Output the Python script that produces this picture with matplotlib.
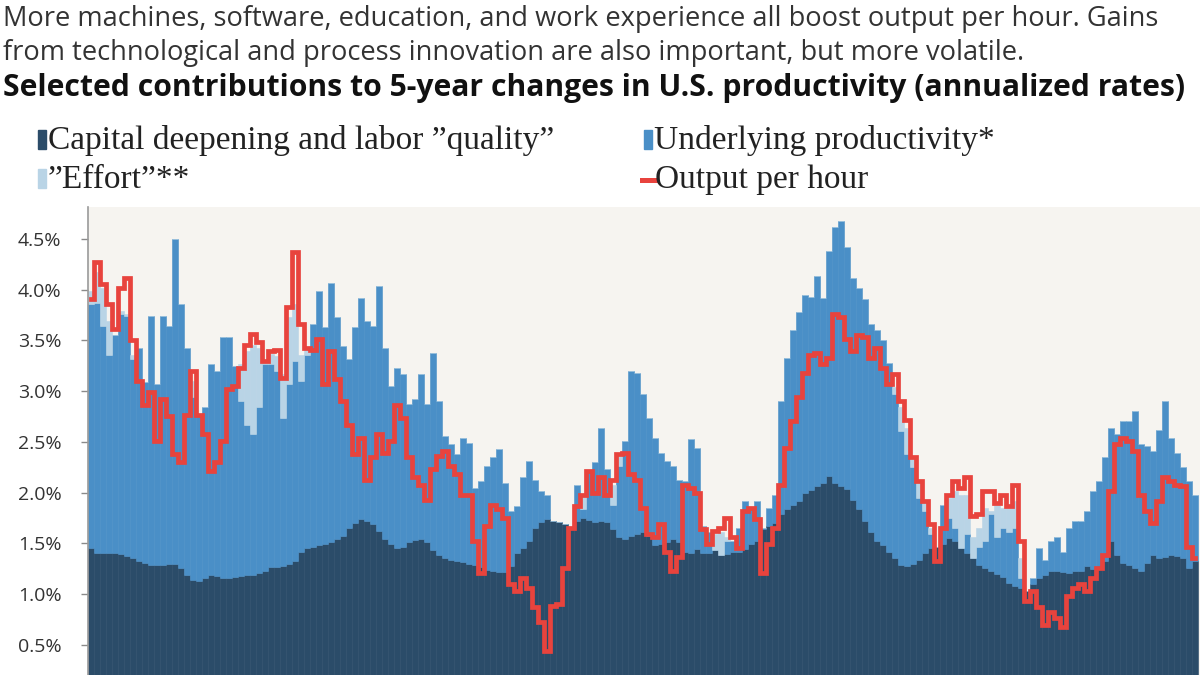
import numpy as np
import matplotlib.pyplot as plt
from matplotlib.patches import Rectangle
from matplotlib.lines import Line2D

# contributions to 5-year changes in U.S. productivity, annualized %
capital = [
    1.46, 1.41, 1.41, 1.41, 1.41, 1.40, 1.38, 1.36, 1.33, 1.31,
    1.29, 1.29, 1.29, 1.30, 1.30, 1.26, 1.19, 1.14, 1.13, 1.16,
    1.19, 1.18, 1.16, 1.16, 1.17, 1.18, 1.19, 1.19, 1.21, 1.23,
    1.27, 1.27, 1.28, 1.30, 1.33, 1.42, 1.46, 1.47, 1.48, 1.49,
    1.51, 1.54, 1.57, 1.65, 1.70, 1.74, 1.72, 1.69, 1.62, 1.54,
    1.49, 1.46, 1.47, 1.51, 1.53, 1.54, 1.51, 1.44, 1.39, 1.36,
    1.34, 1.33, 1.32, 1.30, 1.29, 1.27, 1.24, 1.23, 1.22, 1.22,
    1.28, 1.41, 1.46, 1.52, 1.65, 1.71, 1.74, 1.72, 1.71, 1.69,
    1.65, 1.72, 1.75, 1.73, 1.71, 1.72, 1.71, 1.64, 1.56, 1.54,
    1.57, 1.59, 1.61, 1.57, 1.48, 1.49, 1.51, 1.54, 1.51, 1.42,
    1.41, 1.45, 1.41, 1.41, 1.44, 1.39, 1.40, 1.42, 1.42, 1.45,
    1.49, 1.52, 1.64, 1.67, 1.70, 1.79, 1.84, 1.88, 1.92, 2.00,
    2.03, 2.07, 2.10, 2.16, 2.10, 2.07, 2.04, 1.93, 1.84, 1.72,
    1.61, 1.52, 1.48, 1.42, 1.36, 1.29, 1.28, 1.30, 1.34, 1.41,
    1.46, 1.47, 1.49, 1.55, 1.52, 1.46, 1.41, 1.36, 1.29, 1.26,
    1.23, 1.20, 1.17, 1.11, 1.08, 1.06, 1.03, 1.10, 1.16, 1.19,
    1.23, 1.23, 1.22, 1.21, 1.23, 1.23, 1.28, 1.25, 1.27, 1.33,
    1.52, 1.39, 1.31, 1.29, 1.26, 1.23, 1.31, 1.39, 1.36, 1.37,
    1.39, 1.38, 1.36, 1.26, 1.33,
]
underlying = [
    2.40, 2.46, 2.23, 1.95, 2.14, 2.36, 2.36, 1.96, 2.10, 1.78,
    2.45, 1.78, 2.45, 2.34, 3.20, 2.60, 2.24, 1.80, 1.64, 1.68,
    2.08, 2.02, 2.37, 2.37, 2.08, 1.72, 1.48, 1.39, 1.63, 2.04,
    2.00, 1.93, 1.46, 1.77, 1.97, 1.68, 1.90, 2.19, 2.51, 2.14,
    2.56, 2.19, 1.88, 1.67, 1.93, 2.18, 1.97, 1.95, 2.42, 1.89,
    1.56, 1.77, 1.70, 1.36, 1.39, 1.63, 1.36, 1.94, 1.51, 1.20,
    1.14, 1.05, 1.22, 1.19, 0.76, 0.85, 1.02, 1.12, 1.21, 0.88,
    0.54, 0.46, 0.69, 0.79, 0.48, 0.31, 0.24, 0.00, 0.00, 0.00,
    0.00, 0.36, 0.09, 0.48, 0.59, 0.92, 0.52, 0.24, 0.70, 0.97,
    1.63, 1.59, 1.36, 1.17, 1.06, 0.90, 0.80, 0.72, 0.62, 0.70,
    1.12, 0.99, 0.26, 0.20, 0.00, 0.00, 0.12, 0.10, 0.23, 0.47,
    0.35, 0.40, 0.01, 0.18, 0.28, 1.11, 1.49, 1.72, 1.86, 1.95,
    1.90, 2.07, 1.82, 2.22, 2.52, 2.61, 2.38, 2.19, 2.18, 2.19,
    2.05, 2.08, 2.02, 1.86, 1.61, 1.32, 1.10, 0.95, 0.61, 0.41,
    0.13, 0.00, 0.39, 0.20, 0.13, 0.00, 0.18, 0.00, 0.18, 0.26,
    0.56, 0.36, 0.48, 0.50, 0.57, 0.10, 0.00, 0.06, 0.30, 0.15,
    0.29, 0.33, 0.20, 0.44, 0.49, 0.49, 0.54, 0.77, 0.85, 1.02,
    1.12, 1.19, 1.40, 1.42, 1.55, 1.25, 1.15, 1.02, 1.26, 1.53,
    1.15, 1.01, 0.89, 0.86, 0.65,
]
effort = [
    0.13, 0.30, 0.38, 0.33, 0.00, 0.03, 0.02, 0.04, 0.00, 0.00,
    0.00, 0.00, 0.00, 0.00, 0.00, 0.00, 0.00, 0.16, 0.00, 0.00,
    0.00, 0.00, 0.00, 0.00, 0.00, 0.37, 0.73, 0.88, 0.59, 0.03,
    0.10, 0.15, 0.43, 0.66, 0.56, 0.26, 0.07, 0.00, 0.00, 0.00,
    0.00, 0.00, 0.00, 0.00, 0.00, 0.00, 0.00, 0.00, 0.00, 0.00,
    0.00, 0.00, 0.00, 0.00, 0.00, 0.00, 0.00, 0.00, 0.00, 0.00,
    0.00, 0.00, 0.00, 0.00, 0.00, 0.00, 0.00, 0.00, 0.00, 0.00,
    0.00, 0.00, 0.00, 0.00, 0.00, 0.00, 0.00, 0.00, 0.00, 0.00,
    0.00, 0.00, 0.14, 0.00, 0.00, 0.00, 0.00, 0.20, 0.10, 0.00,
    0.00, 0.00, 0.00, 0.00, 0.00, 0.00, 0.00, 0.00, 0.00, 0.00,
    0.00, 0.00, 0.00, 0.00, 0.15, 0.22, 0.04, 0.00, 0.00, 0.00,
    0.00, 0.00, 0.00, 0.00, 0.00, 0.00, 0.00, 0.00, 0.00, 0.00,
    0.00, 0.00, 0.00, 0.00, 0.00, 0.00, 0.00, 0.00, 0.00, 0.00,
    0.00, 0.00, 0.00, 0.00, 0.07, 0.23, 0.26, 0.10, 0.17, 0.10,
    0.06, 0.00, 0.00, 0.20, 0.37, 0.52, 0.39, 0.20, 0.18, 0.33,
    0.03, 0.32, 0.20, 0.24, 0.27, 0.20, 0.00, 0.00, 0.00, 0.00,
    0.00, 0.00, 0.00, 0.00, 0.00, 0.00, 0.00, 0.00, 0.00, 0.00,
    0.00, 0.00, 0.00, 0.00, 0.00, 0.00, 0.00, 0.00, 0.00, 0.00,
    0.00, 0.00, 0.00, 0.00, 0.00,
]
output_per_hour = [
    3.91, 4.27, 4.06, 3.86, 3.61, 4.02, 4.12, 3.50, 3.10, 2.86,
    2.99, 2.51, 2.92, 2.76, 2.38, 2.30, 2.77, 3.20, 2.77, 2.58,
    2.21, 2.30, 2.51, 3.02, 3.05, 3.23, 3.46, 3.56, 3.48, 3.30,
    3.40, 3.41, 3.13, 3.83, 4.37, 3.66, 3.43, 3.41, 3.51, 3.07,
    3.40, 3.12, 2.90, 2.67, 2.38, 2.54, 2.13, 2.35, 2.58, 2.39,
    2.51, 2.86, 2.74, 2.35, 2.15, 2.08, 1.93, 2.23, 2.36, 2.41,
    2.26, 2.18, 1.98, 1.98, 1.52, 1.21, 1.67, 1.88, 1.84, 1.75,
    1.10, 1.03, 1.16, 1.06, 0.87, 0.73, 0.44, 0.88, 0.90, 1.26,
    1.65, 1.87, 1.98, 2.21, 2.00, 2.15, 1.98, 2.13, 2.38, 2.39,
    2.18, 2.13, 1.85, 1.59, 1.56, 1.69, 1.42, 1.23, 1.37, 2.08,
    2.05, 2.00, 1.64, 1.49, 1.62, 1.65, 1.75, 1.56, 1.46, 1.82,
    1.85, 1.74, 1.21, 1.49, 1.65, 2.08, 2.44, 2.71, 2.94, 3.18,
    3.36, 3.38, 3.27, 3.33, 3.76, 3.73, 3.51, 3.40, 3.55, 3.53,
    3.33, 3.43, 3.23, 3.07, 3.17, 2.90, 2.72, 2.35, 2.12, 1.92,
    1.69, 1.33, 1.65, 1.98, 2.12, 2.05, 2.15, 1.77, 1.79, 2.02,
    2.02, 1.90, 1.98, 1.87, 2.08, 1.52, 0.93, 1.03, 0.87, 0.70,
    0.82, 0.77, 0.68, 0.98, 1.06, 1.10, 1.03, 1.16, 1.26, 1.39,
    2.02, 2.48, 2.54, 2.51, 2.41, 1.98, 1.82, 1.70, 1.92, 2.15,
    2.12, 2.08, 2.07, 1.47, 1.36,
]
y_ticks = [0.5, 1.0, 1.5, 2.0, 2.5, 3.0, 3.5, 4.0, 4.5]

NAVY = '#2b4c69'
MID = '#4a8fc7'
LIGHT = '#b9d4e6'
RED = '#e8433d'
BG = '#f6f4f0'
INK = '#222222'

sans = ['Open Sans', 'DejaVu Sans']
serif = ['Liberation Serif', 'DejaVu Serif']

fig = plt.figure(figsize=(12, 6.75), dpi=100)
W, H = 1200, 675


def fx(px):
    return px / W


def fy(py):
    return 1 - py / H


ax = fig.add_axes([fx(88), 0, fx(1112), 468 / H])
ax.set_facecolor(BG)

cap = np.array(capital)
und = np.array(underlying)
eff = np.array(effort)
x = np.arange(len(cap))

ax.bar(x, cap, width=1.0, color=NAVY, edgecolor=NAVY, linewidth=0.4)
ax.bar(x, und, bottom=cap, width=1.0, color=MID, edgecolor=MID, linewidth=0.4)
ax.bar(x, eff, bottom=cap + und, width=1.0, color=LIGHT, edgecolor=LIGHT,
       linewidth=0.4)
ax.plot(x, output_per_hour, drawstyle='steps-mid', color=RED, lw=3.4,
        solid_joinstyle='miter')

ax.set_xlim(-0.5, -0.5 + 1112 / 6)
ax.set_ylim(0.204, 4.815)
ax.set_xticks([])
ax.set_yticks(y_ticks)
ax.set_yticklabels(['%.1f%%' % t for t in y_ticks], fontfamily=sans,
                   fontsize=14, color='#333333')
ax.tick_params(axis='y', length=5, width=1, color='#8a8a8a', pad=14)
for s in ['top', 'right', 'bottom']:
    ax.spines[s].set_visible(False)
ax.spines['left'].set_color('#9a9a9a')
ax.spines['left'].set_linewidth(1.2)

# heading
fig.text(fx(3), fy(26), 'More machines, software, education, and work experience '
         'all boost output per hour. Gains', family=sans, fontsize=19.6,
         color='#333333', va='baseline')
fig.text(fx(3), fy(60), 'from technological and process innovation are also '
         'important, but more volatile.', family=sans, fontsize=19.6,
         color='#333333', va='baseline')
fig.text(fx(3), fy(96), 'Selected contributions to 5-year changes in U.S. '
         'productivity (annualized rates)', family=sans, fontsize=21.7,
         fontweight='bold', color='#111111', va='baseline')

# legend
items = [
    (38, 149, NAVY, 'Capital deepening and labor \u201dquality\u201d'),
    (644, 149, MID, 'Underlying productivity*'),
    (38, 188, LIGHT, '\u201dEffort\u201d**'),
]
for px, py, c, label in items:
    fig.add_artist(Rectangle((fx(px), fy(py)), fx(8), 19 / H, color=c,
                             transform=fig.transFigure))
    fig.text(fx(px + 10), fy(py), label, family=serif, fontsize=24,
             color=INK, va='baseline')
fig.add_artist(Line2D([fx(642), fx(655)], [fy(179.5), fy(179.5)], color=RED,
                      lw=3.6, transform=fig.transFigure))
fig.text(fx(655), fy(188), 'Output per hour', family=serif, fontsize=24,
         color=INK, va='baseline')

fig.savefig('out.png', dpi=100, facecolor='white')
